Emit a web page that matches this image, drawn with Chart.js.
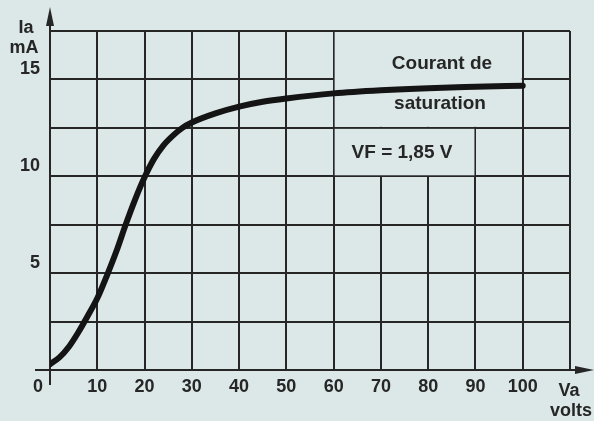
<!DOCTYPE html>
<html>
<head>
<meta charset="utf-8">
<script src="https://cdn.jsdelivr.net/npm/chart.js@4"></script>
<style>
  html, body { margin: 0; padding: 0; background: #dce7e7; }
  #wrap { width: 594px; height: 421px; }
</style>
</head>
<body>
<div id="wrap"><canvas id="chart"></canvas></div>
<script>
// anode voltage (V) and anode current (mA)
const volts = [0, 2, 4, 6, 8, 10, 12, 14, 16, 18, 20, 22, 24, 26, 28, 30, 35, 40, 45, 50, 60, 70, 80, 90, 100];
const current = [0.3, 0.65, 1.2, 1.95, 2.8, 3.7, 4.85, 6.1, 7.5, 8.8, 9.95, 10.9, 11.6, 12.1, 12.5, 12.78, 13.25, 13.6, 13.85, 14.02, 14.28, 14.44, 14.55, 14.62, 14.68];
const xTickLabels = [10, 20, 30, 40, 50, 60, 70, 80, 90, 100];
const yTickLabels = [5, 10, 15];

const ink = '#262626';
const bg = '#dce7e7';

const points = volts.map((v, i) => ({ x: v, y: current[i] }));

// draws background, the blank label box, arrows and free text
const decor = {
  id: 'decor',
  beforeDraw(chart) {
    const c = chart.ctx;
    c.save();
    c.fillStyle = bg;
    c.fillRect(0, 0, chart.width, chart.height);
    c.restore();
  },
  beforeDatasetsDraw(chart) {
    const c = chart.ctx;
    const x = chart.scales.x, y = chart.scales.y;
    c.save();
    c.fillStyle = bg;
    // box around "Courant de saturation"
    c.fillRect(x.getPixelForValue(60) + 1, y.getPixelForValue(17.5) + 1,
      x.getPixelForValue(100) - x.getPixelForValue(60) - 2, y.getPixelForValue(12.5) - y.getPixelForValue(17.5) - 2);
    // box around "VF = 1,85 V"
    c.fillRect(x.getPixelForValue(60) + 1, y.getPixelForValue(12.5) + 1,
      x.getPixelForValue(90) - x.getPixelForValue(60) - 2, y.getPixelForValue(10) - y.getPixelForValue(12.5) - 2);

    const x0 = x.getPixelForValue(0), y0 = y.getPixelForValue(0);
    c.strokeStyle = ink;
    c.fillStyle = ink;
    c.lineWidth = 2;
    // axis extensions
    c.beginPath();
    c.moveTo(x0, y0 + 15); c.lineTo(x0, 14);
    c.moveTo(35, y0); c.lineTo(chart.width - 10, y0);
    c.stroke();
    // arrow heads
    c.beginPath();
    c.moveTo(x0, 7); c.lineTo(x0 - 4, 26); c.lineTo(x0 + 4, 26); c.closePath();
    c.fill();
    c.beginPath();
    c.moveTo(chart.width, y0); c.lineTo(chart.width - 19, y0 - 4); c.lineTo(chart.width - 19, y0 + 4); c.closePath();
    c.fill();
    c.restore();
  },
  afterDraw(chart) {
    const c = chart.ctx;
    c.save();
    c.fillStyle = ink;
    c.textBaseline = 'middle';
    c.textAlign = 'center';
    c.font = 'bold 18px "Liberation Sans", Arial, sans-serif';
    c.fillText('Ia', 26, 28);
    c.fillText('mA', 24, 48);
    c.fillText('0', 38, 387);
    c.fillText('Va', 569, 391);
    c.fillText('volts', 571, 411);
    c.font = 'bold 19px "Liberation Sans", Arial, sans-serif';
    c.fillText('Courant de', 442, 64);
    c.fillText('saturation', 440, 104);
    c.fillText('VF = 1,85 V', 402, 153);
    c.restore();
  }
};

new Chart(document.getElementById('chart'), {
  type: 'line',
  data: {
    datasets: [{
      data: points,
      borderColor: '#141414',
      borderWidth: 6,
      borderCapStyle: 'round',
      pointRadius: 0,
      cubicInterpolationMode: 'monotone',
      fill: false
    }]
  },
  options: {
    responsive: true,
    maintainAspectRatio: false,
    animation: false,
    layout: { padding: { left: 0, top: 31, right: 24, bottom: 0 } },
    plugins: { legend: { display: false }, tooltip: { enabled: false } },
    scales: {
      x: {
        type: 'linear',
        min: 0,
        max: 110,
        afterFit(s) { s.height = 51; },
        border: { color: ink, width: 2 },
        grid: { color: ink, lineWidth: 2, drawTicks: false },
        ticks: {
          stepSize: 10,
          padding: 6,
          color: ink,
          font: { family: '"Liberation Sans", Arial, sans-serif', size: 18, weight: 'bold' },
          callback: v => xTickLabels.includes(v) ? String(v) : ''
        }
      },
      y: {
        min: 0,
        max: 17.5,
        afterFit(s) { s.width = 50; },
        border: { color: ink, width: 2 },
        grid: { color: ink, lineWidth: 2, drawTicks: false },
        ticks: {
          stepSize: 2.5,
          padding: 10,
          labelOffset: -10,
          color: ink,
          font: { family: '"Liberation Sans", Arial, sans-serif', size: 18, weight: 'bold' },
          callback: v => yTickLabels.includes(v) ? String(v) : ''
        }
      }
    }
  },
  plugins: [decor]
});
</script>
</body>
</html>
